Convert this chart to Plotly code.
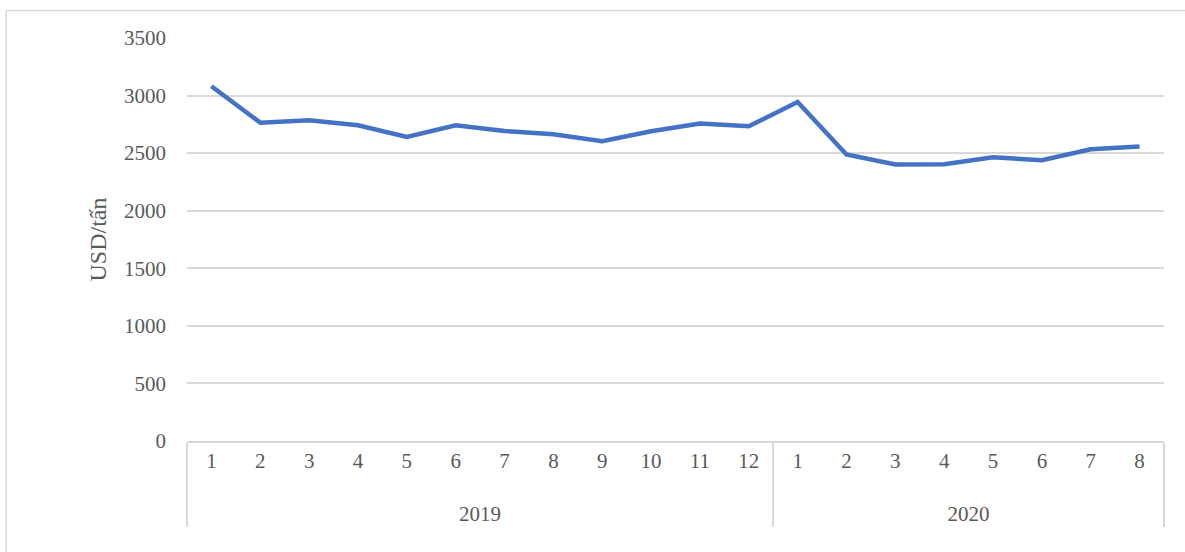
import plotly.graph_objects as go

years = ["<br>2019"] * 12 + ["<br>2020"] * 8
months = [str(m) for m in range(1, 13)] + [str(m) for m in range(1, 9)]
prices = [3081, 2765, 2786, 2742, 2640, 2742, 2693, 2664, 2603, 2690,
          2757, 2733, 2944, 2488, 2401, 2403, 2464, 2438, 2534, 2557]
y_ticks = [0, 500, 1000, 1500, 2000, 2500, 3000, 3500]

font = dict(family="Liberation Serif, Times New Roman, serif", size=21, color="#595959")

fig = go.Figure()
fig.add_trace(
    go.Scatter(
        x=[years, months], y=prices, mode="lines",
        line=dict(color="#4472C4", width=4.5), showlegend=False, hoverinfo="y"
    )
)
fig.update_layout(
    width=1185, height=552,
    margin=dict(l=187, r=21, t=38, b=111),
    paper_bgcolor="white", plot_bgcolor="white",
    font=font,
    xaxis=dict(
        type="multicategory", range=[-0.5, len(prices) - 0.5], showgrid=False, ticks="",
        showline=True, linecolor="#d9d9d9", linewidth=1.5,
        showdividers=True, dividercolor="#d9d9d9", dividerwidth=1.5,
        tickfont=font,
    ),
    yaxis=dict(
        range=[0, 3500], tickvals=y_ticks, showgrid=True, gridcolor="#d9d9d9", gridwidth=1.5,
        zeroline=False, ticks="", ticklabelstandoff=20, tickfont=font,
        title=dict(text="USD/tấn", font=dict(font, size=24), standoff=10),
    ),
    shapes=[
        dict(type="rect", xref="paper", yref="paper", x0=-0.185, x1=1.05, y0=-0.5, y1=1.068,
             line=dict(color="#d9d9d9", width=1.5), layer="below")
    ],
)
fig.write_html("out.html", config={"displayModeBar": False},
               post_script="document.body.style.margin='0';")
